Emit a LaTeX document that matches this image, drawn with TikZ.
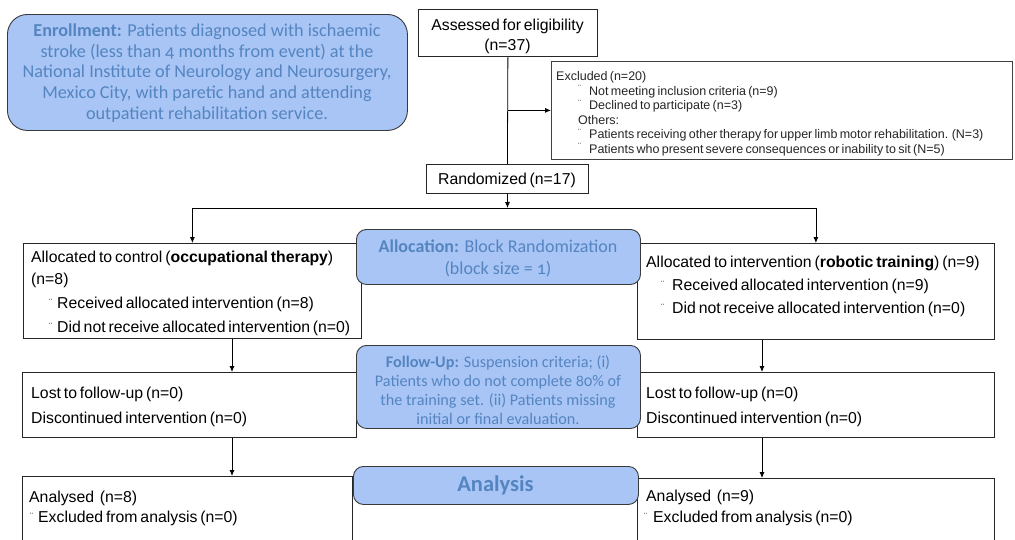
\documentclass[tikz,border=0pt]{standalone}
\usepackage{fontspec}
\setmainfont{Liberation Sans}[WordSpace=0.65]
\newfontfamily\calfont{Carlito}[Numbers=OldStyle]
\usetikzlibrary{arrows.meta}
\definecolor{bfill}{HTML}{A8C5F6}
\definecolor{btext}{HTML}{5585C0}
\definecolor{bdraw}{HTML}{3A3A3A}
\newcommand\bul[1]{\makebox[#1][l]{\raisebox{3.5pt}{\fontsize{9}{9}\selectfont ¨}}}
\begin{document}
\begin{tikzpicture}[x=1pt,y=-1pt,
  wbox/.style={draw=black!85, line width=0.8pt, fill=white, anchor=north west, inner sep=0pt},
  bbox/.style={draw=bdraw, line width=0.9pt, fill=bfill, rounded corners=10pt, anchor=north west,
     inner sep=0pt},
  btxt/.style={inner sep=0pt, text=btext, align=center},
  arr/.style={-{Latex[length=6pt,width=5pt]}, line width=0.8pt},
  ln/.style={line width=0.8pt},
  txt/.style={anchor=base west, inner sep=0pt, font=\fontsize{15.8}{18}\selectfont},
  ctxt/.style={anchor=base, inner sep=0pt, font=\fontsize{15.8}{18}\selectfont},
  stxt/.style={anchor=base west, inner sep=0pt, font=\fontsize{12.5}{13}\selectfont, text=black!85},
]
\path[use as bounding box] (0,0) rectangle (1015,539);
\clip (0,0) rectangle (1015,539);

% white boxes
\node[wbox, minimum width=179, minimum height=47] (assess) at (418,9) {};
\node[wbox, minimum width=461, minimum height=98, draw=black!75] (excl) at (551,61) {};
\node[wbox, minimum width=162, minimum height=29] (rand) at (426,164) {};
\node[wbox, minimum width=338, minimum height=95] (allocL) at (23,243) {};
\node[wbox, minimum width=357, minimum height=96] (allocR) at (637,243) {};
\node[wbox, minimum width=334, minimum height=65] (lostL) at (22,372) {};
\node[wbox, minimum width=357, minimum height=65] (lostR) at (637,372) {};
\node[wbox, minimum width=330, minimum height=90] (anaL) at (22,476) {};
\node[wbox, minimum width=357, minimum height=90] (anaR) at (637,478) {};

% connectors
\coordinate (split) at (507.5,208);
\coordinate (cl) at (232,0);
\coordinate (cr) at (762,0);
\draw[ln] (assess.south) -- (rand.north);
\draw[arr] (assess.south |- excl.west) -- (excl.west);
\draw[arr] (rand.south) -- (split);
\draw[ln] (allocL.north |- split) -- (allocR.north |- split);
\draw[arr] (allocL.north |- split) -- (allocL.north);
\draw[arr] (allocR.north |- split) -- (allocR.north);
\draw[arr] (allocL.south -| cl) -- (lostL.north -| cl);
\draw[arr] (allocR.south -| cr) -- (lostR.north -| cr);
\draw[arr] (lostL.south -| cl) -- (anaL.north -| cl);
\draw[arr] (lostR.south -| cr) -- (anaR.north -| cr);

% blue boxes
\node[bbox, rounded corners=20pt, minimum width=400, minimum height=116] (enrol) at (7,14) {};
\node[btxt, font=\calfont\fontsize{18.2}{20.6}\selectfont] (enrolT) at (207,73)
  {\textbf{Enrollment:} Patients diagnosed with ischaemic\\
   stroke (less than 4 months from event) at the\\
   National Institute of Neurology and Neurosurgery,\\
   Mexico City, with paretic hand and attending\\
   outpatient rehabilitation service.};
\node[bbox, minimum width=284, minimum height=55] (alloc) at (356,229) {};
\node[btxt, font=\calfont\fontsize{18}{22.5}\selectfont] (allocT) at (498,258.5)
  {\textbf{Allocation:} Block Randomization\\(block size = 1)};
\node[bbox, minimum width=284, minimum height=83] (follow) at (356,345) {};
\node[btxt, font=\calfont\fontsize{16.2}{19}\selectfont] (followT) at (498,390.5)
  {\textbf{Follow-Up:} Suspension criteria; (i)\\
   Patients who do not complete 80\% of\\
   the training set. (ii) Patients missing\\
   initial or final evaluation.};
\node[bbox, minimum width=285, minimum height=38] (analysis) at (353,466) {};
\node[btxt, font=\calfont\bfseries\fontsize{22.5}{24}\selectfont] (analysisT) at (495.5,485) {Analysis};

% texts
\node[ctxt] (t1) at (507.5,30.5) {Assessed for eligibility};
\node[ctxt] (t2) at (507.5,50.5) {(n=37)};
\node[ctxt] (t3) at (507,184) {Randomized (n=17)};

\node[stxt] (e1) at (556,80.5) {Excluded (n=20)};
\node[stxt] (e2) at (578,95) {\bul{11pt}Not meeting inclusion criteria (n=9)};
\node[stxt] (e3) at (578,109.5) {\bul{11pt}Declined to participate (n=3)};
\node[stxt] (e4) at (578,124) {Others:};
\node[stxt] (e5) at (578,138.5) {\bul{11pt}Patients receiving other therapy for upper limb motor rehabilitation. (N=3)};
\node[stxt] (e6) at (578,153) {\bul{11pt}Patients who present severe consequences or inability to sit (N=5)};

\node[txt] (l1) at (31,262.5) {Allocated to control (\textbf{occupational therapy})};
\node[txt] (l2) at (31,284.5) {(n=8)};
\node[txt] (l3) at (49,308.5) {\bul{8pt}Received allocated intervention (n=8)};
\node[txt] (l4) at (49,332.5) {\bul{8pt}Did not receive allocated intervention (n=0)};

\node[txt] (r1) at (646,267) {Allocated to intervention (\textbf{robotic training}) (n=9)};
\node[txt] (r2) at (661,290.5) {\bul{11pt}Received allocated intervention (n=9)};
\node[txt] (r3) at (661,313.5) {\bul{11pt}Did not receive allocated intervention (n=0)};

\node[txt] (ll1) at (31,398.5) {Lost to follow-up (n=0)};
\node[txt] (ll2) at (31,423.5) {Discontinued intervention (n=0)};
\node[txt] (rl1) at (646,398.5) {Lost to follow-up (n=0)};
\node[txt] (rl2) at (646,423.5) {Discontinued intervention (n=0)};

\node[txt] (la1) at (29,502.5) {Analysed\ \ (n=8)};
\node[txt] (la2) at (30,522.5) {\bul{8pt}Excluded from analysis (n=0)};
\node[txt] (ra1) at (646,501.5) {Analysed\ \ (n=9)};
\node[txt] (ra2) at (644,522.5) {\bul{9pt}Excluded from analysis (n=0)};
\end{tikzpicture}
\end{document}
